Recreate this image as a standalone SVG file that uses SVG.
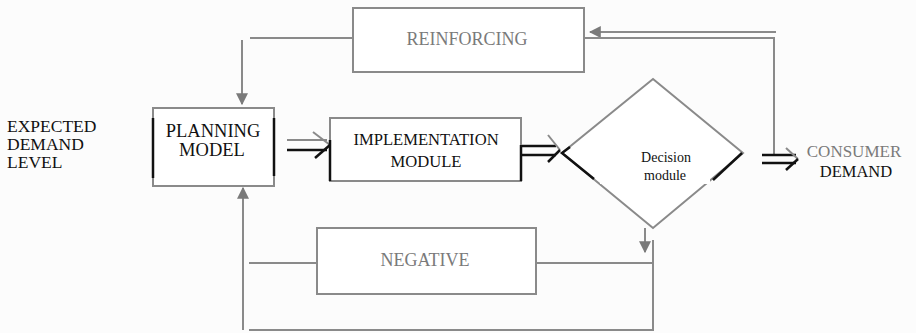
<svg xmlns="http://www.w3.org/2000/svg" width="916" height="333" viewBox="0 0 916 333">
<style>
.bg{fill:#fcfcfc}
.box{fill:#fff;stroke:#8a8a8a;stroke-width:2}
.g{fill:none;stroke:#8a8a8a;stroke-width:2}
.k{fill:none;stroke:#111;stroke-width:2.5}
.t{font-family:"Liberation Serif","Times New Roman",serif;font-size:17.5px;fill:#111}
.tg{font-family:"Liberation Serif","Times New Roman",serif;font-size:18px;fill:#7a7a7a}
.ts{font-family:"Liberation Serif","Times New Roman",serif;font-size:14px;fill:#111}
</style>
<defs>
<marker id="ah" viewBox="0 0 10 10" refX="9" refY="5" markerWidth="6" markerHeight="6" orient="auto" markerUnits="strokeWidth">
<path d="M0,0 L10,5 L0,10 z" fill="#7a7a7a"/>
</marker>
</defs>
<rect class="bg" x="0" y="0" width="916" height="333"/>
<g id="connectors">
<!-- reinforcing loop -->
<polyline class="g" points="353,38 250,38"/>
<line class="g" x1="242" y1="40" x2="242" y2="104" marker-end="url(#ah)"/>
<line class="g" x1="776" y1="32" x2="590" y2="32" marker-end="url(#ah)"/>
<polyline class="g" points="584,38 774,38 774,154"/>
<!-- negative loop -->
<line class="g" x1="645" y1="228" x2="645" y2="252" marker-end="url(#ah)"/>
<polyline class="g" points="653,240 653,330 249,330"/>
<line class="g" x1="536" y1="263" x2="653" y2="263"/>
<line class="g" x1="317" y1="263" x2="249" y2="263"/>
<line class="g" x1="243" y1="330" x2="243" y2="188" marker-end="url(#ah)"/>
<!-- planning -> implementation -->
<line class="g" x1="287" y1="140" x2="327" y2="140"/>
<line class="k" x1="287" y1="150" x2="327" y2="150"/>
<polyline class="g" points="313,132 330,145"/>
<polyline class="k" points="330,145 315,158"/>
<!-- implementation -> decision -->
<line class="k" x1="521" y1="146" x2="556" y2="146"/>
<line class="k" x1="521" y1="155" x2="556" y2="155"/>
<polyline class="g" points="548,135 560,150"/>
<polyline class="k" points="560,150 548,162"/>
<!-- decision -> consumer demand -->
<line class="k" x1="762" y1="155" x2="796" y2="155"/>
<line class="k" x1="762" y1="163" x2="796" y2="163"/>
<polyline class="g" points="786,148 798,159"/>
<polyline class="k" points="798,159 786,170"/>
</g>
<g id="reinforcing">
<rect class="box" x="353" y="8" width="231" height="64"/>
<text class="tg" x="467" y="45" text-anchor="middle">REINFORCING</text>
</g>
<g id="negative">
<rect class="box" x="317" y="228" width="219" height="66"/>
<text class="tg" x="425" y="266" text-anchor="middle">NEGATIVE</text>
</g>
<g id="expected">
<text class="t" x="7" y="132">EXPECTED</text>
<text class="t" x="7" y="150">DEMAND</text>
<text class="t" x="7" y="168">LEVEL</text>
</g>
<g id="planning">
<rect class="box" x="153" y="108" width="121" height="78"/>
<line class="k" x1="153" y1="118" x2="153" y2="178"/>
<line class="k" x1="274" y1="118" x2="274" y2="176"/>
<rect x="162" y="118" width="104" height="40" fill="#fff"/>
<text class="t" x="213" y="137" text-anchor="middle" style="font-size:18.5px">PLANNING</text>
<text class="t" x="212" y="156" text-anchor="middle" style="font-size:18.5px">MODEL</text>
</g>
<g id="implementation">
<rect class="box" x="330" y="118" width="191" height="63"/>
<line class="k" x1="330" y1="140" x2="330" y2="181"/>
<line class="k" x1="521" y1="145" x2="521" y2="181"/>
<text class="t" x="426" y="145" text-anchor="middle" style="font-size:16.6px">IMPLEMENTATION</text>
<text class="t" x="426" y="167" text-anchor="middle" style="font-size:16.6px">MODULE</text>
</g>
<g id="decision">
<polygon class="box" points="653,79 743,153 653,228 562,153"/>
<polyline class="k" points="570,147 562,153 594,179"/>
<line class="k" x1="742" y1="153" x2="713" y2="180"/>
<rect x="600" y="134" width="110" height="50" fill="#fff"/>
<text class="ts" x="666" y="162" text-anchor="middle">Decision</text>
<text class="ts" x="665" y="180" text-anchor="middle">module</text>
</g>
<g id="consumer">
<text class="tg" x="854" y="157" text-anchor="middle" style="font-size:17px">CONSUMER</text>
<text class="t" x="856" y="177" text-anchor="middle" style="font-size:16.5px">DEMAND</text>
</g>
</svg>
